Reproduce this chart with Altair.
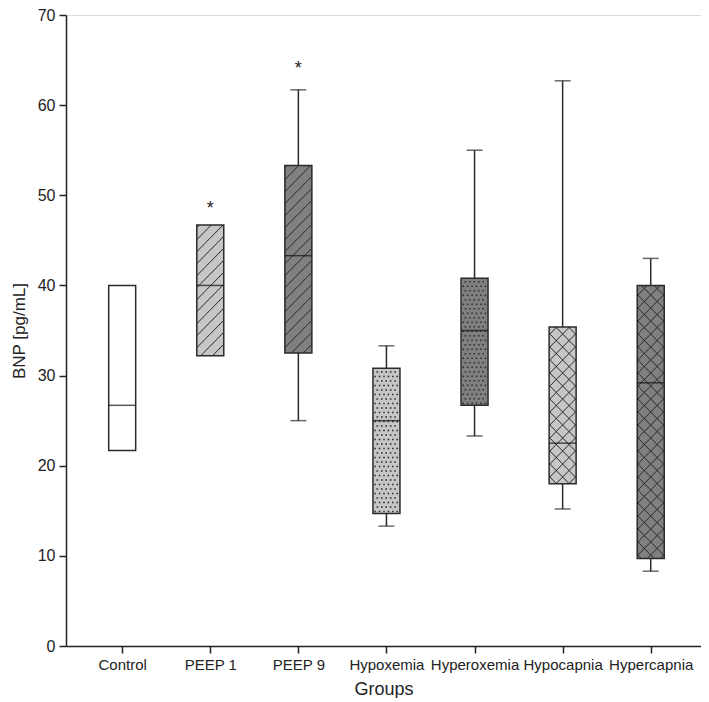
import altair as alt
import pandas as pd
import numpy as np

# ---------------- data ----------------
groups = ["Control", "PEEP 1", "PEEP 9", "Hypoxemia", "Hyperoxemia", "Hypocapnia", "Hypercapnia"]
whisker_low = [None, None, 25.0, 13.3, 23.3, 15.2, 8.3]
q1 = [21.7, 32.2, 32.5, 14.7, 26.7, 18.0, 9.7]
median = [26.7, 40.0, 43.3, 25.0, 35.0, 22.5, 29.2]
q3 = [40.0, 46.7, 53.3, 30.8, 40.8, 35.4, 40.0]
whisker_high = [None, None, 61.7, 33.3, 55.0, 62.7, 43.0]
shade = ["white", "light", "dark", "light", "dark", "light", "dark"]
pattern = ["none", "diag", "diag", "dots", "dots", "cross", "cross"]
star_groups = ["PEEP 1", "PEEP 9"]
star_y = [48.5, 64.0]

# ---------------- layout / style ----------------
W, H = 635, 631
XDOM = [-0.581, 6.514]
YDOM = [0, 70]
BOX_W = 27
sx = W / (XDOM[1] - XDOM[0])
sy = H / (YDOM[1] - YDOM[0])
shade_colors = {"white": "#ffffff", "light": "#c6c6c6", "dark": "#808080"}
INK = "#2a2a2a"

idx = list(range(len(groups)))
box_df = pd.DataFrame({"x": idx, "group": groups, "q1": q1, "median": median, "q3": q3,
                       "fill": [shade_colors[s] for s in shade]})
wk = [i for i in idx if whisker_low[i] is not None]
whisk_df = pd.DataFrame({"x": wk, "lo": [whisker_low[i] for i in wk], "hi": [whisker_high[i] for i in wk]})
star_df = pd.DataFrame({"x": [groups.index(g) for g in star_groups], "y": star_y})

# ---------------- texture (hatching) derived from the boxes ----------------
half = BOX_W / 2.0
seg_rows = []
dot_rows = []
for i in idx:
    v1, v2 = q1[i] * sy, q3[i] * sy
    kinds = []
    if pattern[i] == "diag":
        kinds = [(1, 12.0)]
    elif pattern[i] == "cross":
        kinds = [(1, 13.0), (-1, 13.0)]
    for slope, sp in kinds:
        cmin = np.floor((v1 - 2 * half) / sp) * sp - sp
        c = cmin
        while c <= v2 + 2 * half + sp:
            if slope == 1:
                ulo, uhi = max(-half, v1 - c), min(half, v2 - c)
                if uhi - ulo > 0.5:
                    seg_rows.append({"x": i + ulo / sx, "x2": i + uhi / sx,
                                     "y": (ulo + c) / sy, "y2": (uhi + c) / sy})
            else:
                ulo, uhi = max(-half, c - v2), min(half, c - v1)
                if uhi - ulo > 0.5:
                    seg_rows.append({"x": i + ulo / sx, "x2": i + uhi / sx,
                                     "y": (c - ulo) / sy, "y2": (c - uhi) / sy})
            c += sp
    if pattern[i] == "dots":
        d = 4.5
        j = 0
        v = v1 + 2.0
        while v <= v2 - 1.5:
            u = -half + 2.0 + (d / 2 if j % 2 else 0)
            while u <= half - 1.5:
                dot_rows.append({"x": i + u / sx, "y": v / sy})
                u += d
            v += d
            j += 1
seg_df = pd.DataFrame(seg_rows)
dot_df = pd.DataFrame(dot_rows)

# ---------------- encodings ----------------
label_expr = "[" + ",".join("'" + g + "'" for g in groups) + "][datum.value]"
x_axis = alt.Axis(values=idx, labelExpr=label_expr, title="Groups", grid=False, labelOverlap=False)
y_axis = alt.Axis(values=list(range(0, 71, 10)), title="BNP [pg/mL]", grid=False)
xs = alt.Scale(domain=XDOM, nice=False, zero=False)
ys = alt.Scale(domain=YDOM, nice=False)


def X(f):
    return alt.X(f, type="quantitative", scale=xs, axis=x_axis)


def Y(f):
    return alt.Y(f, type="quantitative", scale=ys, axis=y_axis)


whiskers = alt.Chart(whisk_df).mark_rule(color=INK, strokeWidth=1.5).encode(
    x=X("x"), y=Y("lo"), y2="hi")
cap_lo = alt.Chart(whisk_df).mark_tick(orient="horizontal", size=16, thickness=1.5, color=INK).encode(
    x=X("x"), y=Y("lo"))
cap_hi = alt.Chart(whisk_df).mark_tick(orient="horizontal", size=16, thickness=1.5, color=INK).encode(
    x=X("x"), y=Y("hi"))
box_fill = alt.Chart(box_df).mark_bar(size=BOX_W, strokeWidth=0).encode(
    x=X("x"), y=Y("q1"), y2="q3", fill=alt.Fill("fill:N", scale=None))
hatch = alt.Chart(seg_df).mark_rule(color=INK, strokeWidth=1).encode(
    x=X("x"), x2="x2", y=Y("y"), y2="y2")
dots = alt.Chart(dot_df).mark_square(size=2.6, color="#333333", opacity=1).encode(
    x=X("x"), y=Y("y"))
box_outline = alt.Chart(box_df).mark_bar(size=BOX_W, fillOpacity=0, stroke=INK, strokeWidth=1.5).encode(
    x=X("x"), y=Y("q1"), y2="q3")
medians = alt.Chart(box_df).mark_tick(orient="horizontal", size=BOX_W, thickness=1.5, color="#111111").encode(
    x=X("x"), y=Y("median"))
stars = alt.Chart(star_df).mark_text(text="*", fontSize=18, color="#222222", baseline="middle").encode(
    x=X("x"), y=Y("y"))

chart = alt.layer(whiskers, cap_lo, cap_hi, box_fill, hatch, dots, box_outline, medians, stars).properties(
    width=W, height=H,
    autosize=alt.AutoSizeParams(type="none"),
    padding={"left": 58, "top": 7, "right": 0, "bottom": 52},
).configure_view(stroke=None).configure(font="Liberation Sans").configure_axis(
    domainColor="#222222", domainWidth=1.5, tickColor="#222222", tickWidth=1.5, tickSize=7,
    labelColor="#222222", titleColor="#222222", titleFontWeight="normal", titleFontSize=18,
).configure_axisX(
    labelFontSize=15, labelPadding=4, titlePadding=8,
).configure_axisY(
    labelFontSize=16, labelPadding=4, titlePadding=9, titleFontSize=17,
)

chart.save("out.html", embed_options={"renderer": "svg", "actions": False})
